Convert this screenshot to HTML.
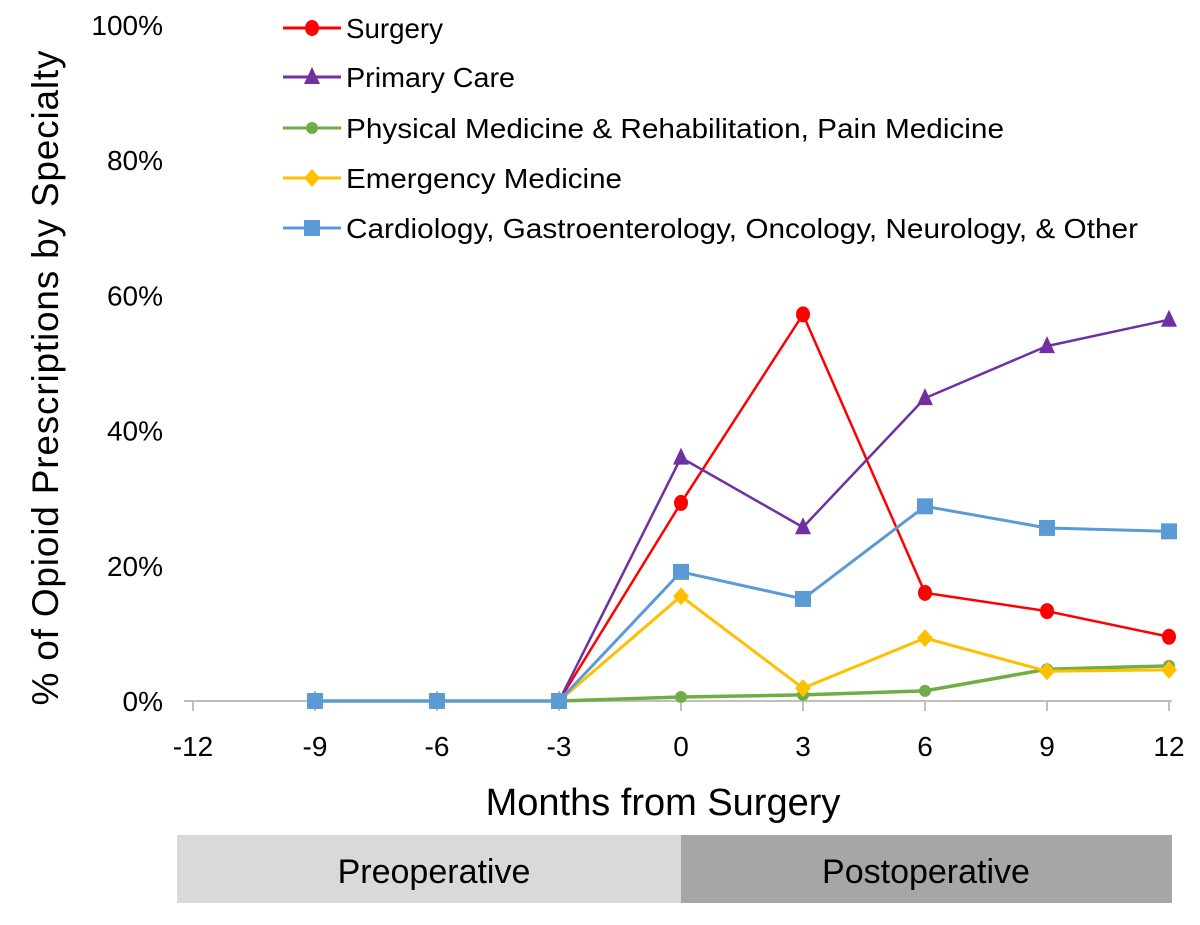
<!DOCTYPE html>
<html><head><meta charset="utf-8"><style>
body{margin:0;background:#fff;}
svg text{font-family:"Liberation Sans",sans-serif;fill:#000;}
</style></head><body>
<svg id="chart" width="1200" height="920">
<rect x="177" y="835" width="504" height="68" fill="#d9d9d9"/>
<rect x="681" y="835" width="491" height="68" fill="#a6a6a6"/>
<text x="434" y="883" font-size="34" text-anchor="middle">Preoperative</text>
<text x="926" y="883" font-size="34" text-anchor="middle">Postoperative</text>
<text x="663" y="815" font-size="38" text-anchor="middle">Months from Surgery</text>
<text transform="translate(58,378) rotate(-90)" font-size="37" text-anchor="middle" textLength="655">% of Opioid Prescriptions by Specialty</text>
<g id="axes"></g>
<g id="series"></g>
<g id="legend"></g>
</svg>
<script>
const months=[-9,-6,-3,0,3,6,9,12];
const xTicks=[-12,-9,-6,-3,0,3,6,9,12];
const yTicks=[0,20,40,60,80,100];
const surgery=[0,0,0,29.3,57.2,16.0,13.3,9.5];
const primaryCare=[0,0,0,36.0,25.7,44.8,52.5,56.4];
const pmrPain=[0,0,0,0.6,0.9,1.5,4.7,5.2];
const emergency=[0,0,0,15.5,1.9,9.3,4.4,4.6];
const cardioOther=[0,0,0,19.1,15.1,28.8,25.6,25.1];
const seriesNames=["Surgery","Primary Care","Physical Medicine & Rehabilitation, Pain Medicine","Emergency Medicine","Cardiology, Gastroenterology, Oncology, Neurology, & Other"];
const nameWidths=[97,169,658,276,792];
const NS="http://www.w3.org/2000/svg";
const x=m=>193+(m+12)*(976/24);
const y=v=>701-v*6.76;
function mk(t,a,p){const e=document.createElementNS(NS,t);for(const k in a)e.setAttribute(k,a[k]);p.appendChild(e);return e;}
const axes=document.getElementById('axes');
const gl=mk('line',{x1:184,x2:1172,y1:701,y2:701,stroke:'#bfbfbf','stroke-width':2},axes);


xTicks.forEach(t=>{
 const tk=mk('line',{x1:x(t),x2:x(t),y1:701,y2:711,stroke:'#bfbfbf','stroke-width':2},axes);
 
 
 const tl=mk('text',{x:x(t),y:756,'font-size':28,'text-anchor':'middle'},axes);tl.textContent=t;
 
 
});
yTicks.forEach(t=>{
 const tl=mk('text',{x:163,y:y(t)+10,'font-size':28,'text-anchor':'end'},axes);tl.textContent=t+'%';
 
 
});
const cfg=[[surgery,'#ff0000','circle',2.5],[primaryCare,'#7030a0','tri',2.5],[pmrPain,'#70ad47','dot',3.5],[emergency,'#ffc000','diamond',3],[cardioOther,'#5b9bd5','square',3]];
function marker(g,shape,cx,cy,c){
 let e;
 if(shape==='circle')e=mk('ellipse',{cx,cy,rx:7,ry:8,fill:c},g);
 else if(shape==='dot')e=mk('circle',{cx,cy,r:6,fill:c},g);
 else if(shape==='tri')e=mk('polygon',{points:`${cx},${cy-10} ${cx+8},${cy+7} ${cx-8},${cy+7}`,fill:c},g);
 else if(shape==='diamond')e=mk('polygon',{points:`${cx},${cy-9} ${cx+8},${cy} ${cx},${cy+9} ${cx-8},${cy}`,fill:c},g);
 else e=mk('rect',{x:cx-8,y:cy-8,width:16,height:16,fill:c},g);
 
 
}
const sg=document.getElementById('series');
cfg.forEach((c,i)=>{
 const g=mk('g',{},sg);
 
 
 const pts=c[0].map((v,j)=>x(months[j])+','+y(v)).join(' ');
 const pl=mk('polyline',{points:pts,fill:'none',stroke:c[1],'stroke-width':c[3]},g);
 
 
 c[0].forEach((v,j)=>marker(g,c[2],x(months[j]),y(v),c[1]));
});
const lg=document.getElementById('legend');
const ly=[28,77,128,178,228];
cfg.forEach((c,i)=>{
 const g=mk('g',{},lg);
 
 
 mk('line',{x1:283,x2:341,y1:ly[i],y2:ly[i],stroke:c[1],'stroke-width':3},g);
 marker(g,c[2],312,ly[i],c[1]);
 const t=mk('text',{x:346,y:ly[i]+10,'font-size':28,textLength:nameWidths[i],lengthAdjust:'spacingAndGlyphs'},g);t.textContent=seriesNames[i];
});
</script>
</body></html>
